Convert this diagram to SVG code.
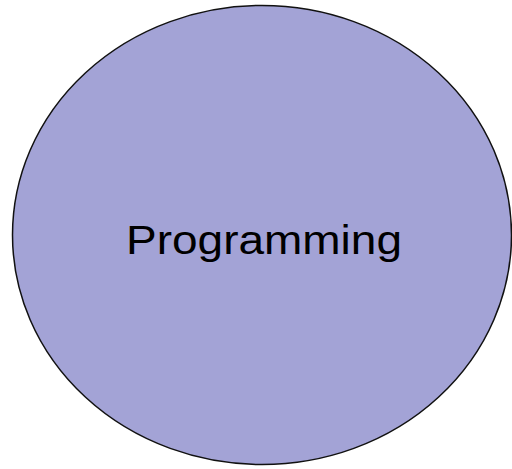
<svg xmlns="http://www.w3.org/2000/svg" width="512" height="469" viewBox="0 0 512 469">
<style>
.node{fill:#a3a3d6;stroke:#111;stroke-width:1.5}
.lbl{font-family:"Liberation Sans",Arial,sans-serif;font-size:41.5px;fill:#000}
</style>
<rect width="512" height="469" fill="#fff"/>
<g id="connectors"></g>
<g id="programming">
<ellipse class="node" cx="262" cy="235" rx="249.5" ry="229.5"/>
<text class="lbl" x="126" y="254" textLength="276" lengthAdjust="spacingAndGlyphs">Programming</text>
</g>
</svg>
